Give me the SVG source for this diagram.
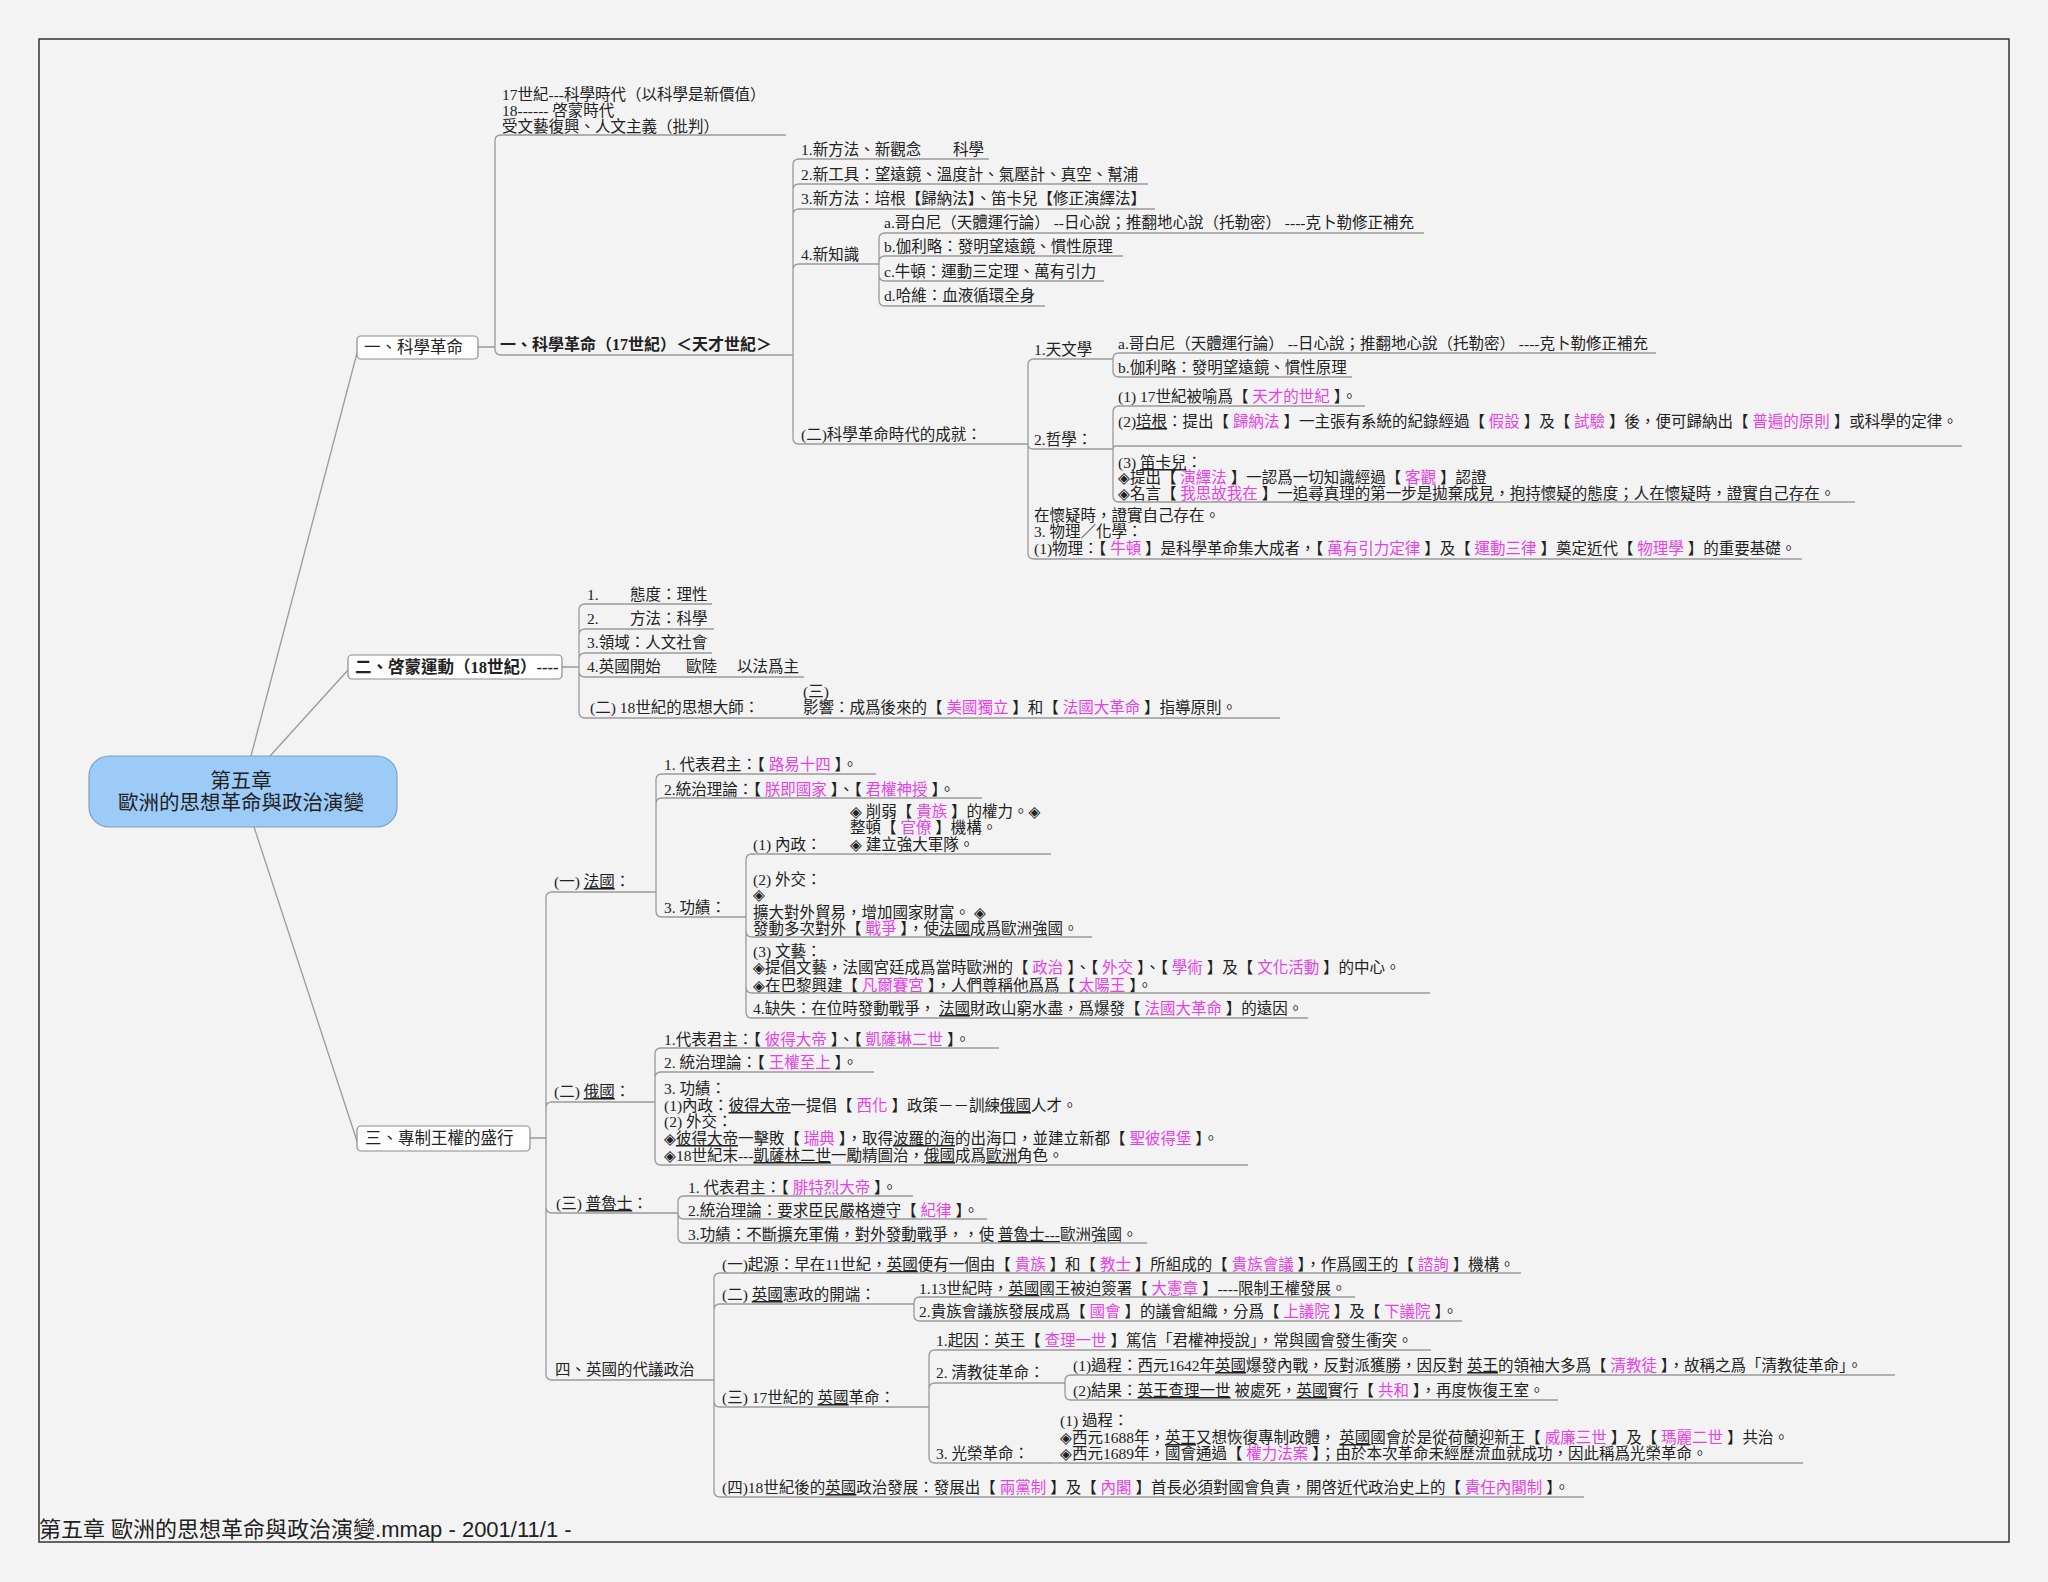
<svg xmlns="http://www.w3.org/2000/svg" width="2048" height="1582" viewBox="0 0 2048 1582">
<style>
text{font-family:"Liberation Serif","Noto Sans CJK TC","DejaVu Sans",serif;font-size:15.5px;fill:#222}
.m{fill:#e83fe8}
.b{font-weight:bold}
.u{text-decoration:underline}
.bt{font-size:16.5px}
.ln{fill:none;stroke:#9a9a9a;stroke-width:1.3}
.ul{fill:none;stroke:#9a9a9a;stroke-width:1.3}
.box{fill:#fff;stroke:#8c8c8c;stroke-width:1.2}
.ft{font-family:"Liberation Sans","Noto Sans CJK TC",sans-serif;font-size:22px;fill:#222}
</style>
<rect x="0" y="0" width="2048" height="1582" fill="#f3f3f3"/>
<rect x="39" y="39" width="1970" height="1503" fill="#f3f3f3" stroke="#333" stroke-width="1.5"/>

<g id="connectors" class="ln">
<path d="M251,756 L357,353"/>
<path d="M270,756 L348,670"/>
<path d="M254,827 L357,1141"/>
<path d="M478,347 H495 M495,347 V141 Q495,135 501,135 M495,347 V349 Q495,355 501,355"/>
<path d="M784,355 H793 M793,355 V165 Q793,159 799,159 M793,355 V190 Q793,184 799,184 M793,355 V215 Q793,209 799,209 M793,355 V270 Q793,264 799,264 M793,355 V438 Q793,444 799,444"/>
<path d="M875,264 H879 M879,264 V239 Q879,233 885,233 M879,264 V262 Q879,256 885,256 M879,264 V275 Q879,281 885,281 M879,264 V300 Q879,306 885,306"/>
<path d="M1025,444 H1028 M1028,444 V365 Q1028,359 1034,359 M1028,444 Q1028,449 1033,449 M1028,444 V553 Q1028,559 1034,559"/>
<path d="M1110,359 H1113 M1113,359 Q1113,353 1119,353 M1113,359 V371 Q1113,377 1119,377"/>
<path d="M1110,449 H1113 M1113,449 V412 Q1113,406 1119,406 M1113,449 Q1113,446 1116,446 M1113,449 V496 Q1113,502 1119,502"/>
<path d="M562,667 H579 M579,667 V610 Q579,604 585,604 M579,667 V635 Q579,629 585,629 M579,667 V659 Q579,653 585,653 M579,667 V671 Q579,677 585,677 M579,667 V712 Q579,718 585,718"/>
<path d="M530,1138 H546 M546,1138 V898 Q546,892 552,892 M546,1138 V1108 Q546,1102 552,1102 M546,1138 V1207 Q546,1213 552,1213 M546,1138 V1374 Q546,1380 552,1380"/>
<path d="M656,892 V780 Q656,774 662,774 M656,892 V804 Q656,798 662,798 M656,892 V911 Q656,917 662,917"/>
<path d="M746,917 V860 Q746,854 752,854 M746,917 V931 Q746,937 752,937 M746,917 V987 Q746,993 752,993 M746,917 V1012 Q746,1018 752,1018"/>
<path d="M655,1102 V1054 Q655,1048 661,1048 M655,1102 V1078 Q655,1072 661,1072 M655,1102 V1159 Q655,1165 661,1165"/>
<path d="M678,1213 V1202 Q678,1196 684,1196 M678,1213 Q678,1219 684,1219 M678,1213 V1237 Q678,1243 684,1243"/>
<path d="M712,1380 H714 M714,1380 V1279 Q714,1273 720,1273 M714,1380 V1310 Q714,1304 720,1304 M714,1380 V1401 Q714,1407 720,1407 M714,1380 V1491 Q714,1497 720,1497"/>
<path d="M914,1304 V1303 Q914,1297 920,1297 M914,1304 V1315 Q914,1321 920,1321"/>
<path d="M929,1407 V1356 Q929,1350 935,1350 M929,1407 V1389 Q929,1383 935,1383 M929,1407 V1457 Q929,1463 935,1463"/>
<path d="M1063,1383 H1065 M1065,1383 V1381 Q1065,1375 1071,1375 M1065,1383 V1394 Q1065,1400 1071,1400"/>
<path d="M1052,1463 H1058"/>
</g>

<g id="n-center">
<rect x="89" y="756" width="308" height="71" rx="20" fill="#9ccbf8" stroke="#7f9fc0" stroke-width="1.2"/>
<text x="241" y="788" text-anchor="middle" style="font-size:20.5px">第五章</text>
<text x="241" y="810" text-anchor="middle" style="font-size:20.5px">歐洲的思想革命與政治演變</text>
</g>

<g id="n-a0"><rect class="box" x="357" y="336" width="121" height="23" rx="4"/><text x="364" y="353" class="bt">一、科學革命</text></g>
<g id="n-a1">
<text x="502" y="100">17世紀---科學時代（以科學是新價值）</text>
<text x="502" y="116">18------ 啓蒙時代</text>
<text x="502" y="132">受文藝復興、人文主義（批判）</text>
<path class="ul" d="M501,135 H786"/></g>
<g id="n-a2"><text x="500" y="350" class="b" style="font-size:16px">一、科學革命（17世紀）＜天才世紀＞</text><path class="ul" d="M501,355 H784"/></g>
<g id="n-b1"><text x="801" y="155">1.新方法、新觀念</text><text x="953" y="155">科學</text><path class="ul" d="M799,159 H989"/></g>
<g id="n-b2"><text x="801" y="180">2.新工具：望遠鏡、溫度計、氣壓計、真空、幫浦</text><path class="ul" d="M799,184 H1148"/></g>
<g id="n-b3"><text x="801" y="204">3.新方法：培根【歸納法】、笛卡兒【修正演繹法】</text><path class="ul" d="M799,209 H1155"/></g>
<g id="n-b4"><text x="801" y="260">4.新知識</text><path class="ul" d="M799,264 H875"/></g>
<g id="n-b5"><text x="801" y="440">(二)科學革命時代的成就：</text><path class="ul" d="M799,444 H1025"/></g>
<g id="n-c1"><text x="884" y="228">a.哥白尼（天體運行論） --日心說；推翻地心說（托勒密） ----克卜勒修正補充</text><path class="ul" d="M885,233 H1424"/></g>
<g id="n-c2"><text x="884" y="252">b.伽利略：發明望遠鏡、慣性原理</text><path class="ul" d="M885,256 H1123"/></g>
<g id="n-c3"><text x="884" y="277">c.牛頓：運動三定理、萬有引力</text><path class="ul" d="M885,281 H1104"/></g>
<g id="n-c4"><text x="884" y="301">d.哈維：血液循環全身</text><path class="ul" d="M885,306 H1045"/></g>
<g id="n-d1"><text x="1034" y="355">1.天文學</text><path class="ul" d="M1034,359 H1110"/></g>
<g id="n-d2"><text x="1034" y="445">2.哲學：</text><path class="ul" d="M1033,449 H1110"/></g>
<g id="n-d3">
<text x="1034" y="521">在懷疑時，證實自己存在。</text>
<text x="1034" y="537">3. 物理／化學：</text>
<text x="1034" y="554">(1)物理：【 <tspan class="m">牛頓</tspan> 】是科學革命集大成者，【 <tspan class="m">萬有引力定律</tspan> 】及【 <tspan class="m">運動三律</tspan> 】奠定近代【 <tspan class="m">物理學</tspan> 】的重要基礎。</text>
<path class="ul" d="M1034,559 H1802"/></g>
<g id="n-e1"><text x="1118" y="349">a.哥白尼（天體運行論） --日心說；推翻地心說（托勒密） ----克卜勒修正補充</text><path class="ul" d="M1119,353 H1656"/></g>
<g id="n-e2"><text x="1118" y="373">b.伽利略：發明望遠鏡、慣性原理</text><path class="ul" d="M1119,377 H1352"/></g>
<g id="n-f1"><text x="1118" y="402">(1) 17世紀被喻爲【 <tspan class="m">天才的世紀</tspan> 】。</text><path class="ul" d="M1119,406 H1365"/></g>
<g id="n-f2"><text x="1118" y="427">(2)<tspan class="u">培根</tspan>：提出【 <tspan class="m">歸納法</tspan> 】一主張有系統的紀錄經過【 <tspan class="m">假設</tspan> 】及【 <tspan class="m">試驗</tspan> 】後，便可歸納出【 <tspan class="m">普遍的原則</tspan> 】或科學的定律。</text><path class="ul" d="M1116,446 H1962"/></g>
<g id="n-f3">
<text x="1118" y="468">(3) <tspan class="u">笛卡兒</tspan>：</text>
<text x="1118" y="483">◈提出【 <tspan class="m">演繹法</tspan> 】一認爲一切知識經過【 <tspan class="m">客觀</tspan> 】認證</text>
<text x="1118" y="499">◈名言【 <tspan class="m">我思故我在</tspan> 】一追尋真理的第一步是拋棄成見，抱持懷疑的態度；人在懷疑時，證實自己存在。</text>
<path class="ul" d="M1119,502 H1855"/></g>

<g id="n-g0"><rect class="box" x="348" y="655" width="214" height="24" rx="4"/><text x="355" y="673" class="b bt">二、啓蒙運動（18世紀）----</text></g>
<g id="n-h1"><text x="587" y="600">1.</text><text x="630" y="600">態度：理性</text><path class="ul" d="M585,604 H712"/></g>
<g id="n-h2"><text x="587" y="624">2.</text><text x="630" y="624">方法：科學</text><path class="ul" d="M585,629 H714"/></g>
<g id="n-h3"><text x="587" y="648">3.領域：人文社會</text><path class="ul" d="M585,653 H712"/></g>
<g id="n-h4"><text x="587" y="672">4.英國開始</text><text x="686" y="672">歐陸</text><text x="737" y="672">以法爲主</text><path class="ul" d="M585,677 H804"/></g>
<g id="n-h5"><text x="590" y="713">(二) 18世紀的思想大師：</text><text x="803" y="697">(三)</text><text x="803" y="713">影響：成爲後來的【 <tspan class="m">美國獨立</tspan> 】和【 <tspan class="m">法國大革命</tspan> 】指導原則。</text><path class="ul" d="M585,718 H1280"/></g>

<g id="n-i0"><rect class="box" x="357" y="1126" width="173" height="25" rx="4"/><text x="365" y="1144" class="bt">三、專制王權的盛行</text></g>
<g id="n-j1"><text x="554" y="887">(一) <tspan class="u">法國</tspan>：</text><path class="ul" d="M552,892 H656"/></g>
<g id="n-j2"><text x="554" y="1097">(二) <tspan class="u">俄國</tspan>：</text><path class="ul" d="M552,1102 H655"/></g>
<g id="n-j3"><text x="556" y="1209">(三) <tspan class="u">普魯士</tspan>：</text><path class="ul" d="M552,1213 H678"/></g>
<g id="n-j4"><text x="555" y="1375">四、英國的代議政治</text><path class="ul" d="M552,1380 H712"/></g>

<g id="n-k1"><text x="664" y="770">1. 代表君主：【 <tspan class="m">路易十四</tspan> 】。</text><path class="ul" d="M662,774 H876"/></g>
<g id="n-k2"><text x="664" y="795">2.統治理論：【 <tspan class="m">朕即國家</tspan> 】、【 <tspan class="m">君權神授</tspan> 】。</text><path class="ul" d="M662,798 H982"/></g>
<g id="n-k3"><text x="664" y="913">3. 功績：</text><path class="ul" d="M662,917 H746"/></g>
<g id="n-l1">
<text x="850" y="817">◈ 削弱【 <tspan class="m">貴族</tspan> 】的權力。◈</text>
<text x="850" y="833">整頓【 <tspan class="m">官僚</tspan> 】機構。</text>
<text x="850" y="850">◈ 建立強大軍隊。</text>
<text x="753" y="850">(1) 內政：</text>
<path class="ul" d="M752,854 H1051"/></g>
<g id="n-l2">
<text x="753" y="885">(2) 外交：</text>
<text x="753" y="900">◈</text>
<text x="753" y="918">擴大對外貿易，增加國家財富。 ◈</text>
<text x="753" y="934">發動多次對外【 <tspan class="m">戰爭</tspan> 】，使<tspan class="u">法國</tspan>成爲歐洲強國。</text>
<path class="ul" d="M752,937 H1092"/></g>
<g id="n-l3">
<text x="753" y="957">(3) 文藝：</text>
<text x="753" y="973">◈提倡文藝，法國宮廷成爲當時歐洲的【 <tspan class="m">政治</tspan> 】、【 <tspan class="m">外交</tspan> 】、【 <tspan class="m">學術</tspan> 】及【 <tspan class="m">文化活動</tspan> 】的中心。</text>
<text x="753" y="991">◈在巴黎興建【 <tspan class="m">凡爾賽宮</tspan> 】，人們尊稱他爲爲【 <tspan class="m">太陽王</tspan> 】。</text>
<path class="ul" d="M752,993 H1430"/></g>
<g id="n-l4"><text x="753" y="1014">4.缺失：在位時發動戰爭， <tspan class="u">法國</tspan>財政山窮水盡，爲爆發【 <tspan class="m">法國大革命</tspan> 】的遠因。</text><path class="ul" d="M752,1018 H1308"/></g>

<g id="n-m1"><text x="664" y="1045">1.代表君主：【 <tspan class="m">彼得大帝</tspan> 】、【 <tspan class="m">凱薩琳二世</tspan> 】。</text><path class="ul" d="M661,1048 H999"/></g>
<g id="n-m2"><text x="664" y="1068">2. 統治理論：【 <tspan class="m">王權至上</tspan> 】。</text><path class="ul" d="M661,1072 H874"/></g>
<g id="n-m3">
<text x="664" y="1094">3. 功績：</text>
<text x="664" y="1111">(1)內政：<tspan class="u">彼得大帝</tspan>一提倡【 <tspan class="m">西化</tspan> 】政策－－訓練<tspan class="u">俄國</tspan>人才。</text>
<text x="664" y="1127">(2) 外交：</text>
<text x="664" y="1144">◈<tspan class="u">彼得大帝</tspan>一擊敗【 <tspan class="m">瑞典</tspan> 】，取得<tspan class="u">波羅的海</tspan>的出海口，並建立新都【 <tspan class="m">聖彼得堡</tspan> 】。</text>
<text x="664" y="1161">◈18世紀末---<tspan class="u">凱薩林二世</tspan>一勵精圖治，<tspan class="u">俄國</tspan>成爲<tspan class="u">歐洲</tspan>角色。</text>
<path class="ul" d="M661,1165 H1248"/></g>

<g id="n-n1"><text x="688" y="1193">1. 代表君主：【 <tspan class="m">腓特烈大帝</tspan> 】。</text><path class="ul" d="M684,1196 H913"/></g>
<g id="n-n2"><text x="688" y="1216">2.統治理論：要求臣民嚴格遵守【 <tspan class="m">紀律</tspan> 】。</text><path class="ul" d="M684,1219 H987"/></g>
<g id="n-n3"><text x="688" y="1240">3.功績：不斷擴充軍備，對外發動戰爭，，使 <tspan class="u">普魯士---</tspan>歐洲強國。</text><path class="ul" d="M684,1243 H1147"/></g>

<g id="n-o1"><text x="722" y="1270">(一)起源：早在11世紀，<tspan class="u">英國</tspan>便有一個由【 <tspan class="m">貴族</tspan> 】和【 <tspan class="m">教士</tspan> 】所組成的【 <tspan class="m">貴族會議</tspan> 】，作爲國王的【 <tspan class="m">諮詢</tspan> 】機構。</text><path class="ul" d="M720,1273 H1521"/></g>
<g id="n-o2"><text x="722" y="1300">(二) <tspan class="u">英國</tspan>憲政的開端：</text><path class="ul" d="M720,1304 H914"/></g>
<g id="n-o3"><text x="722" y="1403">(三) 17世紀的 <tspan class="u">英國</tspan>革命：</text><path class="ul" d="M720,1407 H929"/></g>
<g id="n-o4"><text x="722" y="1493">(四)18世紀後的<tspan class="u">英國</tspan>政治發展：發展出【 <tspan class="m">兩黨制</tspan> 】及【 <tspan class="m">內閣</tspan> 】首長必須對國會負責，開啓近代政治史上的【 <tspan class="m">責任內閣制</tspan> 】。</text><path class="ul" d="M720,1497 H1584"/></g>
<g id="n-p1"><text x="919" y="1294">1.13世紀時，<tspan class="u">英國</tspan>國王被迫簽署【 <tspan class="m">大憲章</tspan> 】----限制王權發展。</text><path class="ul" d="M920,1297 H1355"/></g>
<g id="n-p2"><text x="919" y="1317">2.貴族會議族發展成爲【 <tspan class="m">國會</tspan> 】的議會組織，分爲【 <tspan class="m">上議院</tspan> 】及【 <tspan class="m">下議院</tspan> 】。</text><path class="ul" d="M920,1321 H1462"/></g>
<g id="n-q1"><text x="936" y="1346">1.起因：英王【 <tspan class="m">查理一世</tspan> 】篤信「君權神授說」，常與國會發生衝突。</text><path class="ul" d="M935,1350 H1431"/></g>
<g id="n-q2"><text x="936" y="1378">2. 清教徒革命：</text><path class="ul" d="M935,1383 H1063"/></g>
<g id="n-q3"><text x="936" y="1459">3. 光榮革命：</text><path class="ul" d="M935,1463 H1052"/></g>
<g id="n-r1"><text x="1073" y="1371">(1)過程：西元1642年<tspan class="u">英國</tspan>爆發內戰，反對派獲勝，因反對 <tspan class="u">英王</tspan>的領袖大多爲【 <tspan class="m">清教徒</tspan> 】，故稱之爲「清教徒革命」。</text><path class="ul" d="M1071,1375 H1895"/></g>
<g id="n-r2"><text x="1073" y="1396">(2)結果：<tspan class="u">英王查理一世</tspan> 被處死，<tspan class="u">英國</tspan>實行【 <tspan class="m">共和</tspan> 】，再度恢復王室。</text><path class="ul" d="M1071,1400 H1558"/></g>
<g id="n-s1">
<text x="1060" y="1426">(1) 過程：</text>
<text x="1060" y="1443">◈西元1688年，<tspan class="u">英王</tspan>又想恢復專制政體， <tspan class="u">英國</tspan>國會於是從荷蘭迎新王【 <tspan class="m">威廉三世</tspan> 】及【 <tspan class="m">瑪麗二世</tspan> 】共治。</text>
<text x="1060" y="1459">◈西元1689年，國會通過【 <tspan class="m">權力法案</tspan> 】；由於本次革命未經歷流血就成功，因此稱爲光榮革命。</text>
<path class="ul" d="M1058,1463 H1803"/></g>

<text class="ft" x="39" y="1537">第五章 歐洲的思想革命與政治演變.mmap - 2001/11/1 -</text>
</svg>
